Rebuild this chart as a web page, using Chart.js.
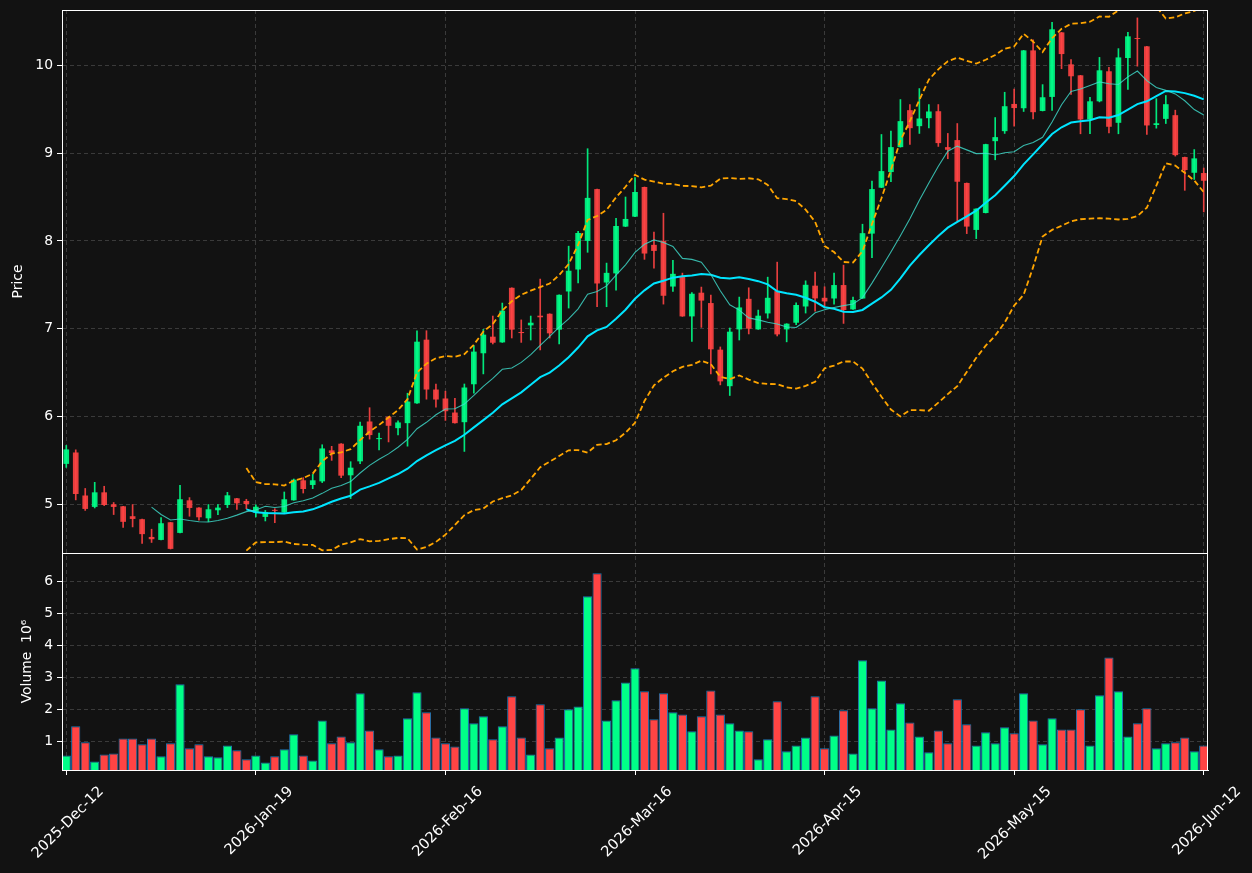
<!DOCTYPE html>
<html><head><meta charset="utf-8">
<script src="https://cdn.jsdelivr.net/npm/chart.js@4.4.1/dist/chart.umd.min.js"></script>
<style>html,body{margin:0;padding:0;background:#121212;overflow:hidden}#wrap{width:1252px;height:873px;position:relative}</style>
</head><body><div id="wrap"><canvas id="c" width="1252" height="873"></canvas></div>
<script>
// ---- data ----
const opens = [5.46,5.59,5.10,4.97,5.136,5.0,4.977,4.864,4.83,4.628,4.594,4.795,4.674,5.045,4.962,4.84,4.932,4.992,5.068,5.038,
4.905,4.856,4.935,4.906,5.045,5.273,5.22,5.261,5.614,5.69,5.33,5.489,5.943,5.742,5.997,5.867,5.924,6.15,6.875,6.307,
6.205,6.045,5.935,6.367,6.72,6.909,6.844,7.466,6.962,7.038,7.148,7.17,6.989,7.424,7.674,8.0,8.59,7.526,7.63,8.163,
8.276,8.614,7.955,8.0,7.48,7.59,7.14,7.41,7.292,6.761,6.345,6.992,7.34,6.992,7.174,7.428,6.992,7.068,7.253,7.49,
7.352,7.344,7.497,7.22,7.344,8.083,8.606,8.784,9.068,9.489,9.307,9.398,9.477,9.068,9.148,8.66,8.125,8.318,9.136,9.25,
9.56,9.511,10.17,9.48,9.64,10.375,10.011,9.886,9.383,9.59,9.932,9.345,10.083,10.31,10.216,9.32,9.39,9.432,8.955,8.776,8.773];
const highs = [5.67,5.62,5.18,5.25,5.205,5.02,4.977,4.997,4.83,4.716,4.849,4.795,5.216,5.076,4.962,4.997,4.997,5.136,5.068,5.057,
4.995,4.93,4.95,5.14,5.288,5.303,5.34,5.678,5.66,5.69,5.485,5.935,6.1,5.81,5.997,5.95,6.265,6.977,6.977,6.37,
6.288,6.208,6.37,6.807,6.992,7.144,7.292,7.466,7.1,7.144,7.565,7.17,7.386,7.94,8.11,9.05,8.59,7.747,8.258,8.5,
8.72,8.614,8.1,8.315,7.78,7.633,7.41,7.474,7.383,6.792,7.008,7.36,7.466,7.212,7.587,7.758,7.057,7.295,7.545,7.644,
7.477,7.633,7.724,7.36,8.19,8.68,9.212,9.25,9.61,9.553,9.735,9.553,9.553,9.224,9.337,8.66,8.367,9.102,9.405,9.693,
9.73,10.17,10.29,9.78,10.49,10.375,10.065,9.886,9.636,10.09,9.977,10.19,10.375,10.54,10.216,9.62,9.656,9.489,8.955,9.04,8.83];
const lows = [5.42,5.05,4.93,4.958,4.985,4.883,4.735,4.742,4.553,4.565,4.594,4.49,4.674,4.864,4.818,4.803,4.883,4.962,4.94,4.95,
4.856,4.81,4.79,4.906,5.045,5.128,5.178,5.247,5.5,5.303,5.065,5.462,5.742,5.62,5.71,5.79,5.662,6.15,6.197,6.106,
5.955,5.924,5.602,6.265,6.485,6.826,6.844,6.894,6.844,6.871,6.758,6.894,6.826,7.235,7.52,7.87,7.25,7.25,7.44,8.163,
8.276,7.79,7.69,7.28,7.424,7.14,6.856,7.015,6.485,6.36,6.239,6.871,6.94,6.992,7.12,6.917,6.85,7.045,7.178,7.2,
7.235,7.28,7.06,7.22,7.344,7.81,8.606,8.674,9.068,9.1,9.224,9.288,9.076,8.936,8.227,8.083,8.026,8.318,8.924,9.224,
9.307,9.474,9.39,9.48,9.485,9.962,9.667,9.22,9.22,9.583,9.23,9.22,9.724,9.99,9.212,9.284,9.337,8.966,8.576,8.70,8.33];
const closes = [5.625,5.117,4.947,5.136,4.992,4.97,4.80,4.833,4.66,4.602,4.784,4.492,5.057,4.958,4.852,4.943,4.962,5.102,5.011,5.003,
4.972,4.912,4.925,5.057,5.28,5.174,5.273,5.636,5.583,5.326,5.417,5.894,5.788,5.754,5.894,5.932,6.17,6.852,6.307,6.193,
6.06,5.924,6.33,6.739,6.932,6.84,7.205,6.989,6.95,7.068,7.13,6.947,7.386,7.66,8.09,8.49,7.515,7.636,8.17,8.25,
8.557,7.856,7.886,7.375,7.625,7.14,7.398,7.32,6.765,6.4,6.966,7.242,7.0,7.148,7.352,6.935,7.057,7.27,7.5,7.345,
7.31,7.497,7.212,7.326,8.088,8.59,8.795,9.068,9.364,9.284,9.394,9.474,9.114,9.038,8.674,8.163,8.367,9.102,9.182,9.534,
9.513,10.17,9.466,9.636,10.41,10.128,9.875,9.383,9.59,9.943,9.3,10.09,10.33,10.3,9.315,9.34,9.557,8.977,8.807,8.94,8.685];
const volumes = [0.56,1.47,0.97,0.37,0.59,0.62,1.09,1.09,0.905,1.09,0.53,0.94,2.78,0.78,0.905,0.53,0.50,0.87,0.72,0.44,
0.56,0.34,0.53,0.75,1.22,0.56,0.40,1.65,0.94,1.15,0.97,2.50,1.34,0.75,0.53,0.56,1.72,2.53,1.91,1.12,
0.94,0.84,2.03,1.56,1.78,1.06,1.47,2.405,1.12,0.59,2.16,0.78,1.12,2.0,2.09,5.53,6.25,1.65,2.28,2.84,
3.28,2.56,1.69,2.50,1.91,1.84,1.31,1.78,2.59,1.84,1.56,1.34,1.31,0.44,1.06,2.25,0.69,0.87,1.12,2.405,
0.78,1.18,1.97,0.62,3.53,2.03,2.9,1.37,2.19,1.59,1.15,0.66,1.34,0.94,2.31,1.53,0.87,1.28,0.94,1.44,
1.25,2.50,1.65,0.905,1.72,1.37,1.37,2.0,0.87,2.44,3.62,2.56,1.15,1.56,2.03,0.78,0.94,0.97,1.12,0.69,0.87];
const tickIndex = [0,20,40,60,80,100,120];
const tickLabels = ['2025-Dec-12','2026-Jan-19','2026-Feb-16','2026-Mar-16','2026-Apr-15','2026-May-15','2026-Jun-12'];
const priceTicks = [5,6,7,8,9,10];
const volumeTicks = [1,2,3,4,5,6];

// ---- derived series (moving averages / Bollinger bands of the closes) ----
function rollMean(a,n){return a.map((_,i)=>{if(i<n-1)return null;let s=0;for(let k=i-n+1;k<=i;k++)s+=a[k];return s/n;});}
function rollStd(a,n){const m=rollMean(a,n);return a.map((_,i)=>{if(i<n-1)return null;let s=0;for(let k=i-n+1;k<=i;k++)s+=(a[k]-m[i])**2;return Math.sqrt(s/(n-1));});}
const ma10 = rollMean(closes,10), ma20 = rollMean(closes,20), sd20 = rollStd(closes,20);
const bbUp = ma20.map((m,i)=>m===null?null:m+2*sd20[i]);
const bbLo = ma20.map((m,i)=>m===null?null:m-2*sd20[i]);

const up = closes.map((c,i)=>c>=opens[i]);
const CG='rgba(0,255,136,0.9)', CR='rgba(255,68,68,0.9)', VG='#00ff88', VR='#ff4444';
const xs = closes.map((_,i)=>i);
const FONT = {family:'"DejaVu Sans", sans-serif', size:13.9};
const XFONT = {family:'"DejaVu Sans", sans-serif', size:14.6};
const GRID = '#3a3a3a';

const clipPlugin = {
  id:'panelClip',
  beforeDatasetDraw(chart,args){const ds=chart.data.datasets[args.index];const sc=chart.scales[ds.yAxisID];const a=chart.chartArea;const c=chart.ctx;c.save();c.beginPath();c.rect(a.left,sc.top,a.right-a.left,sc.bottom-sc.top);c.clip();},
  afterDatasetDraw(chart){chart.ctx.restore();}
};
const framePlugin = {
  id:'frames',
  afterDraw(chart){const c=chart.ctx,a=chart.chartArea;c.save();c.strokeStyle='#ffffff';c.lineWidth=1;
    ['y','yv'].forEach(id=>{const s=chart.scales[id];c.strokeRect(Math.round(a.left)+0.5,Math.round(s.top)+0.5,Math.round(a.right-a.left)-1,Math.round(s.bottom-s.top));});
    c.restore();}
};

new Chart(document.getElementById('c'),{
  type:'bar',
  data:{datasets:[
    {label:'MA10',type:'line',yAxisID:'y',data:xs.map(i=>({x:i,y:ma10[i]})),borderColor:'rgba(64,224,208,0.8)',borderWidth:1.1,pointRadius:0,tension:0,order:0},
    {label:'MA20',type:'line',yAxisID:'y',data:xs.map(i=>({x:i,y:ma20[i]})),borderColor:'#00e5ff',borderWidth:2,pointRadius:0,tension:0,order:0},
    {label:'BB upper',type:'line',yAxisID:'y',data:xs.map(i=>({x:i,y:bbUp[i]})),borderColor:'#ffa500',borderWidth:1.8,borderDash:[5.5,3],pointRadius:0,tension:0,order:0},
    {label:'BB lower',type:'line',yAxisID:'y',data:xs.map(i=>({x:i,y:bbLo[i]})),borderColor:'#ffa500',borderWidth:1.8,borderDash:[5.5,3],pointRadius:0,tension:0,order:0},
    {label:'wick',yAxisID:'y',data:xs.map(i=>({x:i,y:[lows[i],highs[i]]})),backgroundColor:xs.map(i=>up[i]?CG:CR),barThickness:1,grouped:false,order:3},
    {label:'body',yAxisID:'y',data:xs.map(i=>({x:i,y:[opens[i],closes[i]]})),backgroundColor:xs.map(i=>up[i]?CG:CR),barPercentage:0.6,categoryPercentage:1,minBarLength:1,grouped:false,order:2},
    {label:'Volume',yAxisID:'yv',data:xs.map(i=>({x:i,y:volumes[i]})),backgroundColor:xs.map(i=>up[i]?VG:VR),borderColor:'#1f77b4',borderWidth:1,borderSkipped:false,barPercentage:0.97,categoryPercentage:1,grouped:false,order:4}
  ]},
  options:{
    responsive:false, animation:false, devicePixelRatio:1,
    layout:{padding:{top:10,right:44,left:0,bottom:0}},
    plugins:{legend:{display:false},tooltip:{enabled:false}},
    scales:{
      x:{type:'linear',min:-0.45,max:120.45,offset:false,
        afterBuildTicks:s=>{s.ticks=tickIndex.map(v=>({value:v}));},
        afterFit:s=>{s.height=103;s.paddingLeft=0;s.paddingRight=0;},
        ticks:{autoSkip:false,maxRotation:45,minRotation:45,labelOffset:35,padding:8,color:'#ffffff',font:XFONT,
          callback:(v)=>{const k=tickIndex.indexOf(v);return k>=0?tickLabels[k]:'';}},
        grid:{color:GRID,lineWidth:1,drawTicks:true,tickLength:5,tickColor:'#ffffff',tickWidth:1,tickBorderDash:[],offset:false},
        border:{display:true,color:'#ffffff',width:1,dash:[4,3]}
      },
      yv:{type:'linear',position:'left',stack:'panels',stackWeight:217,min:0.103,max:6.884,
        afterBuildTicks:s=>{s.ticks=volumeTicks.map(v=>({value:v}));},
        afterFit:s=>{s.width=62;s.paddingTop=0;s.paddingBottom=0;},
        ticks:{color:'#ffffff',font:FONT,padding:4},
        title:{display:true,text:'Volume  10\u2076',color:'#ffffff',font:FONT,padding:{top:19,bottom:0}},
        grid:{color:GRID,lineWidth:1,tickLength:5,tickColor:'#ffffff',tickWidth:1,tickBorderDash:[]},
        border:{display:true,color:'#ffffff',width:1,dash:[4,3]}
      },
      y:{type:'linear',position:'left',stack:'panels',stackWeight:543,min:4.445,max:10.63,
        afterBuildTicks:s=>{s.ticks=priceTicks.map(v=>({value:v}));},
        afterFit:s=>{s.width=62;s.paddingTop=0;s.paddingBottom=0;},
        ticks:{color:'#ffffff',font:FONT,padding:4},
        title:{display:true,text:'Price',color:'#ffffff',font:FONT,padding:{top:10,bottom:0}},
        grid:{color:GRID,lineWidth:1,tickLength:5,tickColor:'#ffffff',tickWidth:1,tickBorderDash:[]},
        border:{display:true,color:'#ffffff',width:1,dash:[4,3]}
      }
    }
  },
  plugins:[clipPlugin,framePlugin]
});
</script></body></html>
